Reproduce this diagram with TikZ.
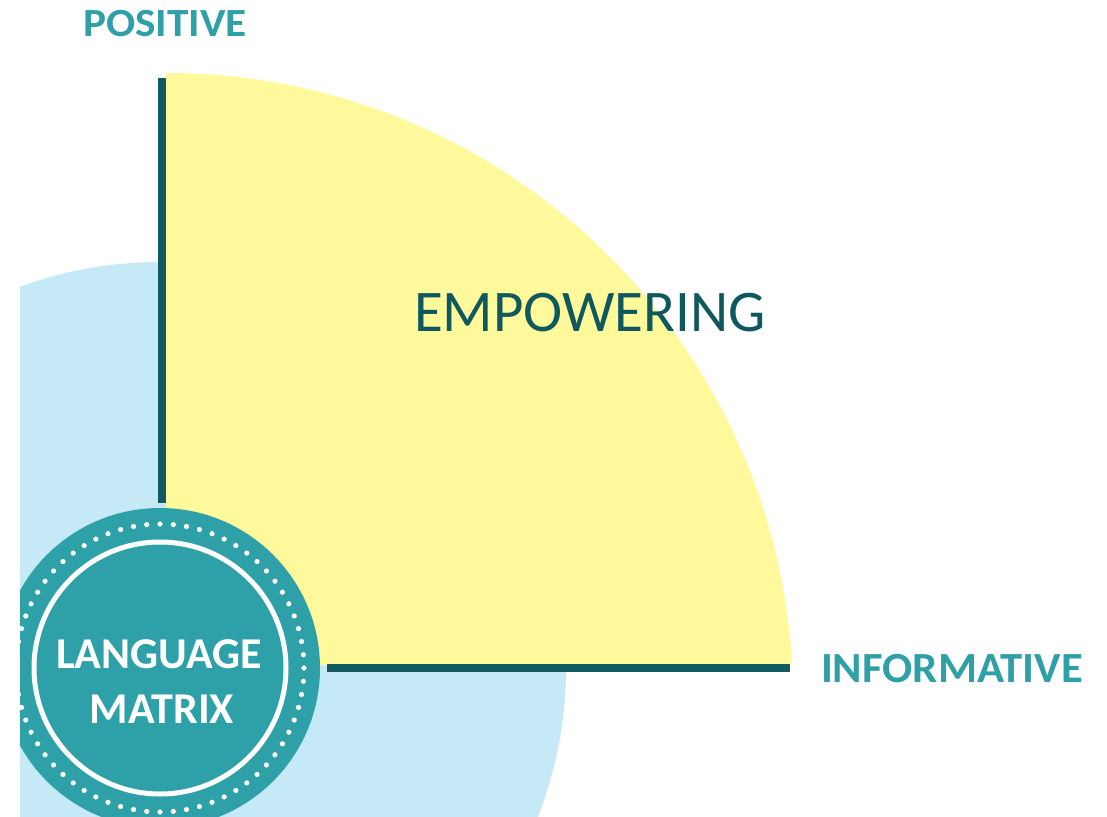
\documentclass[tikz,border=0pt]{standalone}
\usepackage{fontspec}
\setmainfont{Carlito}
\definecolor{ltblue}{RGB}{197,233,247}
\definecolor{sunyellow}{RGB}{255,249,155}
\definecolor{axisdark}{RGB}{16,90,96}
\definecolor{badgeteal}{RGB}{46,160,168}
\definecolor{labelteal}{RGB}{47,160,168}
\definecolor{bigtext}{RGB}{14,88,94}
\tikzset{
  axislabel/.style={text=labelteal, font=\fontsize{40}{48}\selectfont\bfseries, inner sep=0pt, anchor=base},
  axisline/.style={draw=axisdark, line width=8.5pt},
  badgetext/.style={text=white, font=\fontsize{44}{55}\selectfont\bfseries, inner sep=0pt, anchor=base},
}
\begin{document}
\begin{tikzpicture}[x=1pt,y=-1pt]
\useasboundingbox (0,0) rectangle (1107,816);
\fill[white] (0,0) rectangle (1107,816);
\begin{scope}
  \clip (20,0) rectangle (1107,816);
  % light blue disc
  \fill[ltblue] (160,668) circle (406);
  % yellow quarter
  \begin{scope}
    \clip (166,0) rectangle (1107,664);
    \fill[sunyellow] (166,700) circle (627);
  \end{scope}
  % axes
  \coordinate (vtop) at (162,78);
  \coordinate (vbot) at (162,503);
  \coordinate (hleft) at (327,668);
  \coordinate (hright) at (790,668);
  \draw[axisline] (vtop) -- (vbot);
  \draw[axisline] (hleft) -- (hright);
  % badge
  \fill[badgeteal] (160,668) circle (160);
  \draw[white, line width=5pt] (160,668) circle (126);
  \foreach \i in {0,...,67} \fill[white] (160,668) ++(\i*5.2941:144) circle (2.6);
\end{scope}
\node[axislabel] (pos) at (165,37) {\addfontfeature{FakeStretch=1.08}POSITIVE};
\node[axislabel, font=\fontsize{43}{50}\selectfont\bfseries] (inf) at (952,682) {\addfontfeature{FakeStretch=1.04}INFORMATIVE};
\node[text=bigtext, font=\fontsize{59}{70}\selectfont, inner sep=0pt, anchor=base] (emp) at (590,331) {EMPOWERING};
\node[badgetext] (lang) at (159,668) {LANGUAGE};
\node[badgetext] (mat) at (162,723) {MATRIX};
\end{tikzpicture}
\end{document}
